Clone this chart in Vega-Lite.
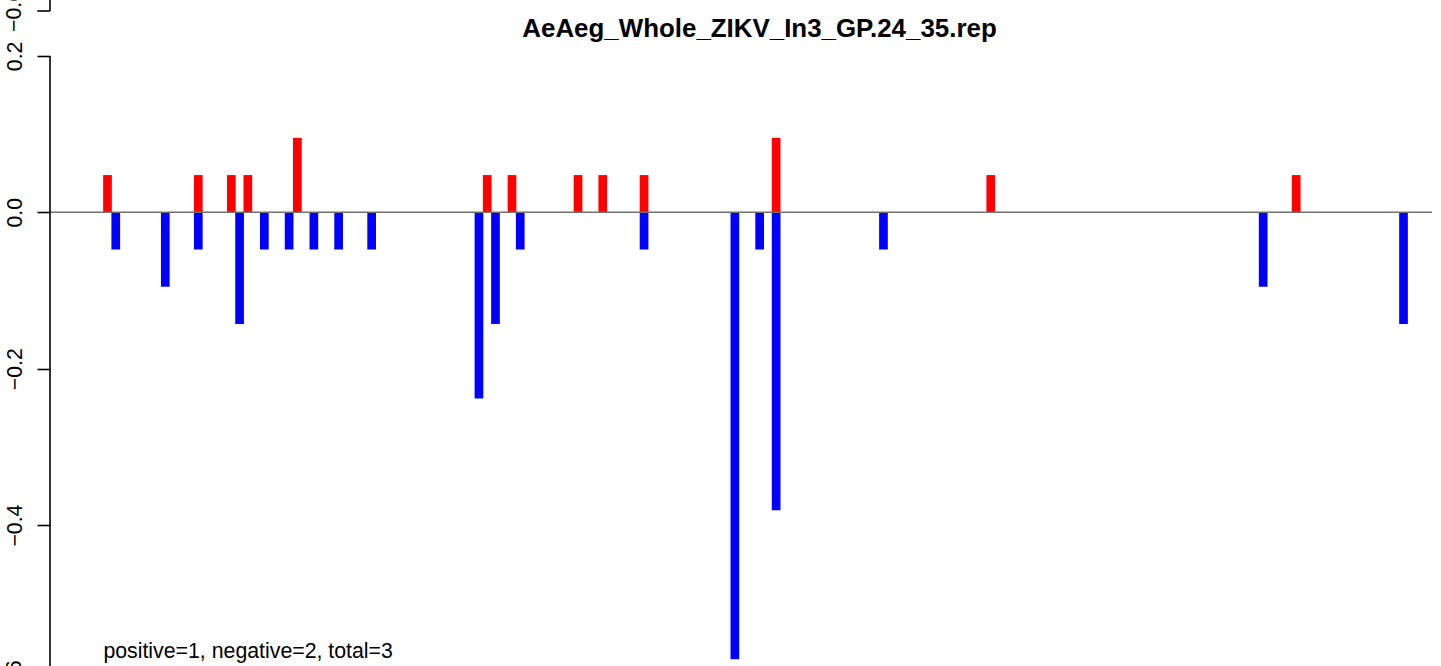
{
  "$schema": "https://vega.github.io/schema/vega-lite/v6.json",
  "width": 1382,
  "height": 666,
  "autosize": {"type": "none"},
  "padding": {"left": 50, "top": 0, "right": 9, "bottom": 0},
  "background": "white",
  "config": {
    "view": {"stroke": null},
    "font": "Liberation Sans",
    "axisY": {
      "domain": false,
      "grid": false,
      "ticks": true,
      "tickSize": 13,
      "tickWidth": 1.6,
      "tickColor": "black",
      "labelAngle": 270,
      "labelAlign": "center",
      "labelBaseline": "alphabetic",
      "labelPadding": 16,
      "labelFont": "Liberation Sans",
      "labelFontSize": 21.3,
      "labelColor": "black",
      "labelFlush": false,
      "labelOverlap": false
    }
  },
  "title": {
    "text": "AeAeg_Whole_ZIKV_In3_GP.24_35.rep",
    "font": "Liberation Sans",
    "fontSize": 25.9,
    "fontWeight": "bold",
    "color": "black",
    "anchor": "middle",
    "frame": "group",
    "baseline": "alphabetic",
    "offset": -72.5,
    "dx": 18.5
  },
  "datasets": {
    "bars": [
      {"pos": 0, "value": 0.0476, "sign": "positive"},
      {"pos": 11, "value": 0.0476, "sign": "positive"},
      {"pos": 15, "value": 0.0476, "sign": "positive"},
      {"pos": 17, "value": 0.0476, "sign": "positive"},
      {"pos": 23, "value": 0.0952, "sign": "positive"},
      {"pos": 46, "value": 0.0476, "sign": "positive"},
      {"pos": 49, "value": 0.0476, "sign": "positive"},
      {"pos": 57, "value": 0.0476, "sign": "positive"},
      {"pos": 60, "value": 0.0476, "sign": "positive"},
      {"pos": 65, "value": 0.0476, "sign": "positive"},
      {"pos": 81, "value": 0.0952, "sign": "positive"},
      {"pos": 107, "value": 0.0476, "sign": "positive"},
      {"pos": 144, "value": 0.0476, "sign": "positive"},
      {"pos": 1, "value": -0.0476, "sign": "negative"},
      {"pos": 7, "value": -0.0952, "sign": "negative"},
      {"pos": 11, "value": -0.0476, "sign": "negative"},
      {"pos": 16, "value": -0.1429, "sign": "negative"},
      {"pos": 19, "value": -0.0476, "sign": "negative"},
      {"pos": 22, "value": -0.0476, "sign": "negative"},
      {"pos": 25, "value": -0.0476, "sign": "negative"},
      {"pos": 28, "value": -0.0476, "sign": "negative"},
      {"pos": 32, "value": -0.0476, "sign": "negative"},
      {"pos": 45, "value": -0.2381, "sign": "negative"},
      {"pos": 47, "value": -0.1429, "sign": "negative"},
      {"pos": 50, "value": -0.0476, "sign": "negative"},
      {"pos": 65, "value": -0.0476, "sign": "negative"},
      {"pos": 76, "value": -0.5714, "sign": "negative"},
      {"pos": 79, "value": -0.0476, "sign": "negative"},
      {"pos": 81, "value": -0.381, "sign": "negative"},
      {"pos": 94, "value": -0.0476, "sign": "negative"},
      {"pos": 140, "value": -0.0952, "sign": "negative"},
      {"pos": 157, "value": -0.1429, "sign": "negative"}
    ],
    "note": [{"label": "positive=1, negative=2, total=3"}],
    "edge": [{"label": "−0.6"}]
  },
  "layer": [
    {
      "data": {"name": "bars"},
      "mark": {"type": "bar", "size": 8.7},
      "encoding": {
        "x": {
          "field": "pos",
          "type": "quantitative",
          "scale": {"domain": [-6.966, 160.45], "nice": false, "zero": false, "padding": 0},
          "axis": null
        },
        "y": {
          "field": "value",
          "type": "quantitative",
          "stack": null,
          "scale": {"domain": [-0.58018, 0.27148], "nice": false, "zero": false, "padding": 0},
          "axis": {"values": [0.2, 0, -0.2, -0.4], "format": ".1f", "title": null}
        },
        "y2": {"datum": 0},
        "color": {
          "field": "sign",
          "type": "nominal",
          "scale": {"domain": ["positive", "negative"], "range": ["#FF0000", "#0000FF"]},
          "legend": null
        }
      }
    },
    {
      "data": {"values": [{}]},
      "mark": {"type": "rule", "color": "#707070", "strokeWidth": 1.5},
      "encoding": {
        "y": {"datum": 0, "type": "quantitative", "title": null}
      }
    },
    {
      "data": {"values": [{}]},
      "mark": {"type": "rule", "color": "black", "strokeWidth": 1.6},
      "encoding": {
        "x": {"datum": -6.966, "type": "quantitative", "axis": null},
        "y": {"datum": 0.2, "type": "quantitative", "title": null},
        "y2": {"datum": -0.58018}
      }
    },
    {
      "data": {"values": [{}]},
      "mark": {"type": "rule", "color": "black", "strokeWidth": 1.6},
      "encoding": {
        "x": {"datum": -6.966, "type": "quantitative", "axis": null},
        "y": {"datum": 0.27148, "type": "quantitative", "title": null},
        "y2": {"datum": 0.25742}
      }
    },
    {
      "data": {"values": [{}]},
      "mark": {"type": "rule", "color": "black", "strokeWidth": 1.6},
      "encoding": {
        "x": {"datum": -8.504, "type": "quantitative", "axis": null},
        "x2": {"datum": -6.966},
        "y": {"datum": 0.25742, "type": "quantitative", "title": null}
      }
    },
    {
      "data": {"name": "edge"},
      "mark": {"type": "text", "angle": 270, "align": "center", "baseline": "alphabetic", "font": "Liberation Sans", "fontSize": 21.3, "color": "black"},
      "encoding": {
        "x": {"datum": -10.478, "type": "quantitative", "axis": null},
        "y": {"datum": 0.25742, "type": "quantitative", "title": null},
        "text": {"field": "label"}
      }
    },
    {
      "data": {"name": "edge"},
      "mark": {"type": "text", "angle": 270, "align": "center", "baseline": "alphabetic", "font": "Liberation Sans", "fontSize": 21.3, "color": "black"},
      "encoding": {
        "x": {"datum": -10.478, "type": "quantitative", "axis": null},
        "y": {"datum": -0.6, "type": "quantitative", "title": null},
        "text": {"field": "label"}
      }
    },
    {
      "data": {"name": "note"},
      "mark": {"type": "text", "align": "left", "baseline": "alphabetic", "font": "Liberation Sans", "fontSize": 21.3, "color": "black"},
      "encoding": {
        "x": {"datum": -0.5, "type": "quantitative", "axis": null},
        "y": {"datum": -0.5696, "type": "quantitative", "title": null},
        "text": {"field": "label"}
      }
    }
  ]
}
